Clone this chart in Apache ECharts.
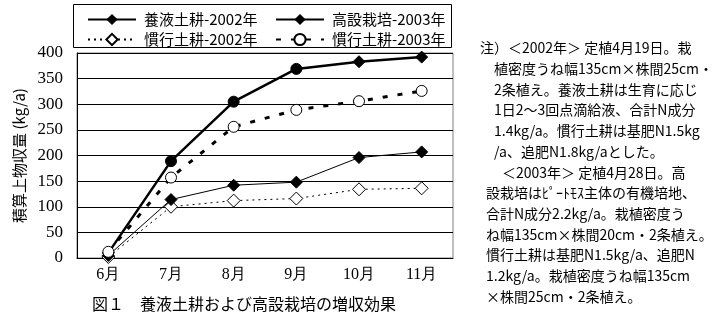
<!DOCTYPE html>
<html><head><meta charset="utf-8">
<script src="https://cdn.jsdelivr.net/npm/echarts@6/dist/echarts.min.js"></script>
<style>html,body{margin:0;padding:0;background:#fff}#c{width:712px;height:323px}</style>
</head><body><div id="c"></div>
<script>
const categories = ['6月','7月','8月','9月','10月','11月'];
const yoeki2002 = [5,114,142,148,196,207];
const kousetsu2003 = [10,189,305,369,383,392];
const kanko2002 = [2,100,112,116,134,136];
const kanko2003 = [12,157,256,289,306,326];
const seriesNames = ['養液土耕-2002年','高設栽培-2003年','慣行土耕-2002年','慣行土耕-2003年'];
const yMin = 0, yMax = 400, yStep = 50;
const yTitle = '積算上物収量 (kg/a)';
const caption = '図１　養液土耕および高設栽培の増収効果';
const noteLines = [
  '注）＜2002年＞ 定植4月19日。栽',
  '植密度うね幅135cm×株間25cm・',
  '2条植え。養液土耕は生育に応じ',
  '1日2～3回点滴給液、合計N成分',
  '1.4kg/a。慣行土耕は基肥N1.5kg',
  '/a、追肥N1.8kg/aとした。',
  '＜2003年＞ 定植4月28日。高',
  '設栽培はﾋﾟｰﾄﾓｽ主体の有機培地、',
  '合計N成分2.2kg/a。栽植密度う',
  'ね幅135cm×株間20cm・2条植え。',
  '慣行土耕は基肥N1.5kg/a、追肥N',
  '1.2kg/a。栽植密度うね幅135cm',
  '×株間25cm・2条植え。'
];
const noteX = [480,494,494,494,494,494,502,486,486,486,486,486,486];

const kousetsuSymbols = ['diamond','circle','circle','circle','diamond','diamond'];
const serif = "'Liberation Serif', serif";
const jp = 'Noto Sans CJK JP';

const chart = echarts.init(document.getElementById('c'));
const legendPos = [[87,12],[275,12],[87,32],[275,32]];
const legends = seriesNames.map((n,i)=>({
  data:[n], left:legendPos[i][0], top:legendPos[i][1], padding:0,
  itemWidth:48, itemHeight:14, itemGap:0,
  textStyle:{fontSize:15, color:'#000', fontFamily:jp, padding:[0,0,0,3]}
}));
const graphics = [
  {type:'rect', shape:{x:73.5,y:4.5,width:378,height:43}, style:{fill:'none',stroke:'#000',lineWidth:1}},
  {type:'text', left:92, top:296, style:{text:caption, font:"16px 'Noto Sans CJK JP'", fill:'#000'}}
];
noteLines.forEach((t,i)=>{
  graphics.push({type:'text', x:noteX[i], y:48+20.7*i, style:{text:t, font:"14px 'Noto Sans CJK JP'", fill:'#000', textVerticalAlign:'middle'}});
});

chart.setOption({
  animation:false,
  legend: legends,
  grid:{left:77,right:259,top:53,bottom:65,show:true,borderColor:'#808080',borderWidth:1,backgroundColor:'transparent'},
  xAxis:{type:'category',data:categories,boundaryGap:true,
    axisLine:{lineStyle:{color:'#000',width:1}},
    axisTick:{inside:true,length:5,lineStyle:{color:'#000'}},
    axisLabel:{color:'#000',fontSize:16,margin:9,fontFamily:serif}},
  yAxis:{type:'value',min:yMin,max:yMax,interval:yStep,
    axisLine:{show:true,lineStyle:{color:'#000'}},
    axisTick:{show:false},
    splitLine:{lineStyle:{color:'#000',width:1}},
    axisLabel:{color:'#000',fontSize:17,margin:14,fontFamily:serif},
    name:yTitle,nameLocation:'middle',nameRotate:90,nameGap:42,
    nameTextStyle:{color:'#000',fontSize:15,fontFamily:jp}},
  series:[
    {name:seriesNames[0],type:'line',data:yoeki2002,symbol:'diamond',symbolSize:12,
      lineStyle:{color:'#000',width:1},itemStyle:{color:'#000',borderColor:'#000'},z:3},
    {name:seriesNames[1],type:'line',symbol:'diamond',symbolSize:12,
      data:kousetsu2003.map((v,i)=>({value:v,symbol:kousetsuSymbols[i],symbolSize:kousetsuSymbols[i]==='circle'?11:12})),
      lineStyle:{color:'#000',width:2.5},itemStyle:{color:'#000',borderColor:'#000'},z:4},
    {name:seriesNames[2],type:'line',data:kanko2002,symbol:'diamond',symbolSize:13,
      lineStyle:{color:'#000',width:1,type:[2,4]},itemStyle:{color:'#fff',borderColor:'#000',borderWidth:1},z:2},
    {name:seriesNames[3],type:'line',data:kanko2003,symbol:'circle',symbolSize:11,
      lineStyle:{color:'#000',width:3,type:[5,10]},itemStyle:{color:'#fff',borderColor:'#000',borderWidth:1},z:5}
  ],
  graphic:graphics
});
</script></body></html>
